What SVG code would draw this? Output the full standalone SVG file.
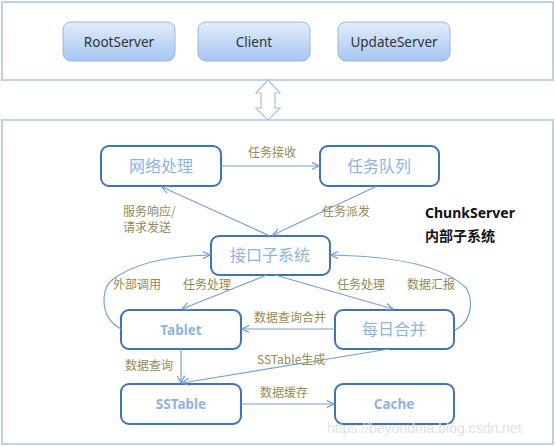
<svg xmlns="http://www.w3.org/2000/svg" width="556" height="446" viewBox="0 0 556 446">
<defs>
<linearGradient id="btn" x1="0" y1="0" x2="0" y2="1">
<stop offset="0" stop-color="#e3edfb"/>
<stop offset="1" stop-color="#a6c6f2"/>
</linearGradient>
<marker id="ah" viewBox="0 0 10 10" refX="9" refY="5" markerWidth="9" markerHeight="9" markerUnits="userSpaceOnUse" orient="auto">
<path d="M1,1 L9,5 L1,9" fill="none" stroke="#6f98d0" stroke-width="1.3"/>
</marker>
</defs>
<style>
.frame{fill:#fff;stroke:#a8c2e2;stroke-width:1.5}
.btn{fill:url(#btn);stroke:#9bb6db;stroke-width:1}
.btxt{font-family:"Noto Sans","Liberation Sans",sans-serif;font-size:13.5px;fill:#333;text-anchor:middle}
.node{fill:#fff;stroke:#3f72b8;stroke-width:2}
.ntxt{font-family:"Noto Sans CJK SC","Noto Sans",sans-serif;font-size:16px;fill:#8db3e2;text-anchor:middle}
.ltxt{font-family:"Noto Sans","Liberation Sans",sans-serif;font-weight:bold;font-size:13.5px;fill:#8db3e2;text-anchor:middle}
.conn{fill:none;stroke:#7aa0d4;stroke-width:1.2}
.lab{font-family:"Noto Sans CJK SC",sans-serif;font-size:12px;fill:#948a54}
.title{font-family:"Noto Sans","Noto Sans CJK SC",sans-serif;font-weight:bold;font-size:14px;fill:#111}
</style>
<rect class="frame" x="2" y="2" width="551" height="78"/>
<rect class="frame" x="2" y="120" width="551" height="324"/>
<g id="RootServer"><rect class="btn" x="63" y="22" width="112" height="39" rx="8"/><text class="btxt" x="119" y="47">RootServer</text></g>
<g id="Client"><rect class="btn" x="198" y="22" width="112" height="39" rx="8"/><text class="btxt" x="254" y="47">Client</text></g>
<g id="UpdateServer"><rect class="btn" x="338" y="22" width="112" height="39" rx="8"/><text class="btxt" x="394" y="47">UpdateServer</text></g>
<g id="dblarrow"><path d="M268,80 L280,93 L275,93 L275,108 L280,108 L268,120 L256,108 L261,108 L261,93 L256,93 Z" fill="#fff" stroke="#a8c2e2" stroke-width="1.2"/></g>
<g id="net"><rect class="node" x="101" y="146" width="120" height="40" rx="8"/><text class="ntxt" x="161" y="172">网络处理</text></g>
<g id="queue"><rect class="node" x="320" y="146" width="119" height="40" rx="8"/><text class="ntxt" x="379" y="172">任务队列</text></g>
<g id="iface"><rect class="node" x="211" y="236" width="119" height="39" rx="8"/><text class="ntxt" x="270" y="261">接口子系统</text></g>
<g id="tablet"><rect class="node" x="121" y="310" width="120" height="39" rx="8"/><text class="ltxt" x="181" y="335">Tablet</text></g>
<g id="merge"><rect class="node" x="335" y="310" width="119" height="39" rx="8"/><text class="ntxt" x="394" y="335">每日合并</text></g>
<g id="sstable"><rect class="node" x="121" y="384" width="120" height="40" rx="8"/><text class="ltxt" x="181" y="409">SSTable</text></g>
<g id="cache"><rect class="node" x="335" y="384" width="119" height="40" rx="8"/><text class="ltxt" x="394" y="409">Cache</text></g>
<g id="connectors">
<path class="conn" d="M221,166 L319,166" marker-end="url(#ah)"/>
<path class="conn" d="M377,186 L273,235" marker-end="url(#ah)"/>
<path class="conn" d="M270,236 L162,187" marker-end="url(#ah)"/>
<path class="conn" d="M267,275 L182,309" marker-end="url(#ah)"/>
<path class="conn" d="M275,275 L393,309" marker-end="url(#ah)"/>
<path class="conn" d="M121,329 C100,318 100,290 112,280 C135,262 170,256 210,255" marker-end="url(#ah)"/>
<path class="conn" d="M455,330 C475,320 472,295 466,288 C440,262 380,256 331,255" marker-end="url(#ah)"/>
<path class="conn" d="M335,329 L242,329" marker-end="url(#ah)"/>
<path class="conn" d="M389,349 L182,383" marker-end="url(#ah)"/>
<path class="conn" d="M181,349 L181,383" marker-end="url(#ah)"/>
<path class="conn" d="M241,404 L334,404" marker-end="url(#ah)"/>
</g>
<g id="labels">
<text class="lab" x="248" y="157">任务接收</text>
<text class="lab" x="322" y="216">任务派发</text>
<text class="lab" x="123" y="216">服务响应/</text>
<text class="lab" x="123" y="232">请求发送</text>
<text class="lab" x="113" y="289">外部调用</text>
<text class="lab" x="183" y="289">任务处理</text>
<text class="lab" x="337" y="289">任务处理</text>
<text class="lab" x="407" y="289">数据汇报</text>
<text class="lab" x="254" y="322">数据查询合并</text>
<text class="lab" x="257" y="364">SSTable生成</text>
<text class="lab" x="125" y="370">数据查询</text>
<text class="lab" x="260" y="397">数据缓存</text>
</g>
<g id="chunkserver">
<text class="title" x="425" y="218">ChunkServer</text>
<text class="title" x="425" y="241">内部子系统</text>
</g>
<text x="327" y="433" font-family="Liberation Sans,sans-serif" font-size="14" fill="#e2e2e2">https://beyondma.blog.csdn.net</text>
</svg>
